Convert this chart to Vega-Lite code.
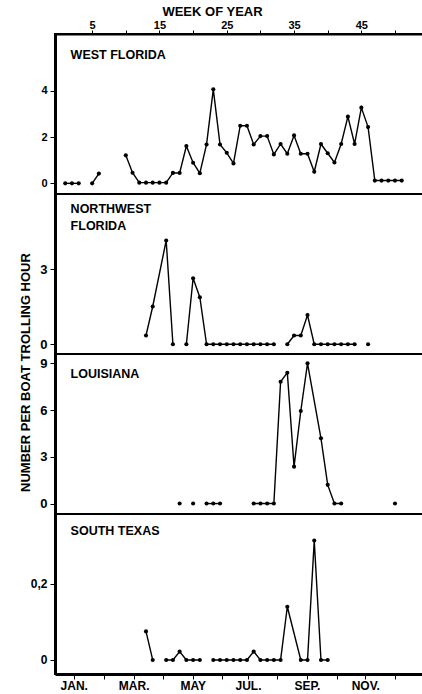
{
  "$schema": "https://vega.github.io/schema/vega-lite/v6.json",
  "padding": {"left": 17, "top": 4, "right": 0, "bottom": 0},
  "background": "white",
  "spacing": 0,
  "bounds": "flush",
  "config": {
    "view": {"stroke": "black", "strokeWidth": 2},
    "axis": {"grid": false, "labelFont": "Liberation Sans", "labelFontWeight": "bold", "labelFontSize": 11, "labelColor": "black", "tickColor": "black", "domainColor": "black", "titleFont": "Liberation Sans", "titleFontWeight": "bold", "titleColor": "black", "labelFlush": false, "labelOverlap": false}
  },
  "datasets": {
    "d": [
      {"region":"WF","week":1,"value":0,"seg":1},{"region":"WF","week":2,"value":0,"seg":1},{"region":"WF","week":3,"value":0,"seg":1},
      {"region":"WF","week":5,"value":0,"seg":2},{"region":"WF","week":6,"value":0.42,"seg":2},
      {"region":"WF","week":10,"value":1.21,"seg":3},{"region":"WF","week":11,"value":0.46,"seg":3},{"region":"WF","week":12,"value":0.03,"seg":3},{"region":"WF","week":13,"value":0.03,"seg":3},{"region":"WF","week":14,"value":0.03,"seg":3},{"region":"WF","week":15,"value":0.03,"seg":3},{"region":"WF","week":16,"value":0.03,"seg":3},{"region":"WF","week":17,"value":0.45,"seg":3},{"region":"WF","week":18,"value":0.45,"seg":3},{"region":"WF","week":19,"value":1.61,"seg":3},{"region":"WF","week":20,"value":0.89,"seg":3},{"region":"WF","week":21,"value":0.44,"seg":3},{"region":"WF","week":22,"value":1.68,"seg":3},{"region":"WF","week":23,"value":4.06,"seg":3},{"region":"WF","week":24,"value":1.68,"seg":3},{"region":"WF","week":25,"value":1.32,"seg":3},{"region":"WF","week":26,"value":0.86,"seg":3},{"region":"WF","week":27,"value":2.49,"seg":3},{"region":"WF","week":28,"value":2.49,"seg":3},{"region":"WF","week":29,"value":1.68,"seg":3},{"region":"WF","week":30,"value":2.04,"seg":3},{"region":"WF","week":31,"value":2.04,"seg":3},{"region":"WF","week":32,"value":1.25,"seg":3},{"region":"WF","week":33,"value":1.7,"seg":3},{"region":"WF","week":34,"value":1.28,"seg":3},{"region":"WF","week":35,"value":2.07,"seg":3},{"region":"WF","week":36,"value":1.28,"seg":3},{"region":"WF","week":37,"value":1.28,"seg":3},{"region":"WF","week":38,"value":0.5,"seg":3},{"region":"WF","week":39,"value":1.7,"seg":3},{"region":"WF","week":40,"value":1.3,"seg":3},{"region":"WF","week":41,"value":0.9,"seg":3},{"region":"WF","week":42,"value":1.7,"seg":3},{"region":"WF","week":43,"value":2.88,"seg":3},{"region":"WF","week":44,"value":1.7,"seg":3},{"region":"WF","week":45,"value":3.27,"seg":3},{"region":"WF","week":46,"value":2.43,"seg":3},{"region":"WF","week":47,"value":0.12,"seg":3},{"region":"WF","week":48,"value":0.12,"seg":3},{"region":"WF","week":49,"value":0.12,"seg":3},{"region":"WF","week":50,"value":0.12,"seg":3},{"region":"WF","week":51,"value":0.12,"seg":3},

      {"region":"NWF","week":13,"value":0.35,"seg":1},{"region":"NWF","week":14,"value":1.51,"seg":1},{"region":"NWF","week":16,"value":4.15,"seg":1},{"region":"NWF","week":17,"value":0,"seg":1},
      {"region":"NWF","week":19,"value":0,"seg":2},{"region":"NWF","week":20,"value":2.64,"seg":2},{"region":"NWF","week":21,"value":1.88,"seg":2},{"region":"NWF","week":22,"value":0,"seg":2},{"region":"NWF","week":23,"value":0,"seg":2},{"region":"NWF","week":24,"value":0,"seg":2},{"region":"NWF","week":25,"value":0,"seg":2},{"region":"NWF","week":26,"value":0,"seg":2},{"region":"NWF","week":27,"value":0,"seg":2},{"region":"NWF","week":28,"value":0,"seg":2},{"region":"NWF","week":29,"value":0,"seg":2},{"region":"NWF","week":30,"value":0,"seg":2},{"region":"NWF","week":31,"value":0,"seg":2},{"region":"NWF","week":32,"value":0,"seg":2},
      {"region":"NWF","week":34,"value":0,"seg":3},{"region":"NWF","week":35,"value":0.35,"seg":3},{"region":"NWF","week":36,"value":0.35,"seg":3},{"region":"NWF","week":37,"value":1.17,"seg":3},{"region":"NWF","week":38,"value":0,"seg":3},{"region":"NWF","week":39,"value":0,"seg":3},{"region":"NWF","week":40,"value":0,"seg":3},{"region":"NWF","week":41,"value":0,"seg":3},{"region":"NWF","week":42,"value":0,"seg":3},{"region":"NWF","week":43,"value":0,"seg":3},{"region":"NWF","week":44,"value":0,"seg":3},
      {"region":"NWF","week":46,"value":0,"seg":4},

      {"region":"LA","week":18,"value":0,"seg":1},
      {"region":"LA","week":20,"value":0,"seg":2},
      {"region":"LA","week":22,"value":0,"seg":3},{"region":"LA","week":23,"value":0,"seg":3},{"region":"LA","week":24,"value":0,"seg":3},
      {"region":"LA","week":29,"value":0,"seg":4},{"region":"LA","week":30,"value":0,"seg":4},{"region":"LA","week":31,"value":0,"seg":4},{"region":"LA","week":32,"value":0,"seg":4},{"region":"LA","week":33,"value":7.82,"seg":4},{"region":"LA","week":34,"value":8.4,"seg":4},{"region":"LA","week":35,"value":2.37,"seg":4},{"region":"LA","week":36,"value":5.94,"seg":4},{"region":"LA","week":37,"value":9.0,"seg":4},{"region":"LA","week":39,"value":4.19,"seg":4},{"region":"LA","week":40,"value":1.2,"seg":4},{"region":"LA","week":41,"value":0,"seg":4},{"region":"LA","week":42,"value":0,"seg":4},
      {"region":"LA","week":50,"value":0,"seg":5},

      {"region":"ST","week":13,"value":0.075,"seg":1},{"region":"ST","week":14,"value":0,"seg":1},
      {"region":"ST","week":16,"value":0,"seg":2},{"region":"ST","week":17,"value":0,"seg":2},{"region":"ST","week":18,"value":0.022,"seg":2},{"region":"ST","week":19,"value":0,"seg":2},{"region":"ST","week":20,"value":0,"seg":2},{"region":"ST","week":21,"value":0,"seg":2},
      {"region":"ST","week":23,"value":0,"seg":3},{"region":"ST","week":24,"value":0,"seg":3},{"region":"ST","week":25,"value":0,"seg":3},{"region":"ST","week":26,"value":0,"seg":3},{"region":"ST","week":27,"value":0,"seg":3},{"region":"ST","week":28,"value":0,"seg":3},{"region":"ST","week":29,"value":0.022,"seg":3},{"region":"ST","week":30,"value":0,"seg":3},{"region":"ST","week":31,"value":0,"seg":3},{"region":"ST","week":32,"value":0,"seg":3},{"region":"ST","week":33,"value":0,"seg":3},{"region":"ST","week":34,"value":0.14,"seg":3},{"region":"ST","week":36,"value":0,"seg":3},{"region":"ST","week":37,"value":0,"seg":3},{"region":"ST","week":38,"value":0.314,"seg":3},{"region":"ST","week":39,"value":0,"seg":3},{"region":"ST","week":40,"value":0,"seg":3}
    ]
  },
  "vconcat": [
    {
      "width": 368, "height": 160,
      "data": {"name": "d"},
      "transform": [{"filter": "datum.region == 'WF'"}],
      "encoding": {
        "x": {"field": "week", "type": "quantitative", "scale": {"domain": [-0.52, 54.16], "nice": false, "zero": false},
              "axis": {"orient": "top", "values": [5,10,15,20,25,30,35,40,45,50], "labelExpr": "datum.value % 10 == 5 ? datum.label : ''", "labelFontSize": 11, "labelPadding": 0, "tickSize": 4, "domainWidth": 2, "title": "WEEK OF YEAR", "titleFontSize": 13, "titleX": 157, "titleY": -19, "titleBaseline": "alphabetic", "titleAlign": "center"}},
        "y": {"field": "value", "type": "quantitative", "scale": {"domain": [-0.46, 6.45], "nice": false, "zero": false},
              "axis": {"values": [0,2,4], "format": "d", "labelFontSize": 11, "tickSize": 5, "labelPadding": 3, "domainWidth": 3, "title": null}}
      },
      "layer": [
        {"mark": {"type": "line", "color": "black", "strokeWidth": 1.4}, "encoding": {"detail": {"field": "seg", "type": "nominal"}}},
        {"mark": {"type": "point", "filled": true, "color": "black", "size": 17, "opacity": 1}},
        {"transform": [{"aggregate": [{"op": "min", "field": "week", "as": "week"}, {"op": "min", "field": "value", "as": "value"}]}],
         "mark": {"type": "text", "font": "Liberation Sans", "fontWeight": "bold", "fontSize": 12.5, "color": "black", "align": "left", "baseline": "top"},
         "encoding": {
           "x": {"datum": 1.8, "type": "quantitative"},
           "y": {"datum": 5.8, "type": "quantitative"},
           "text": {"value": "WEST FLORIDA"}
         }}
      ]
    },
    {
      "width": 368, "height": 160,
      "data": {"name": "d"},
      "transform": [{"filter": "datum.region == 'NWF'"}],
      "encoding": {
        "x": {"field": "week", "type": "quantitative", "scale": {"domain": [-0.52, 54.16], "nice": false, "zero": false},
              "axis": {"labels": false, "ticks": false, "domain": false, "title": null}},
        "y": {"field": "value", "type": "quantitative", "scale": {"domain": [-0.39, 6.01], "nice": false, "zero": false},
              "axis": {"values": [0,3], "format": "d", "labelFontSize": 13, "tickSize": 5, "labelPadding": 3, "domainWidth": 3, "title": null}}
      },
      "layer": [
        {"mark": {"type": "line", "color": "black", "strokeWidth": 1.4}, "encoding": {"detail": {"field": "seg", "type": "nominal"}}},
        {"mark": {"type": "point", "filled": true, "color": "black", "size": 17, "opacity": 1}},
        {"transform": [{"aggregate": [{"op": "min", "field": "week", "as": "week"}, {"op": "min", "field": "value", "as": "value"}]}],
         "mark": {"type": "text", "font": "Liberation Sans", "fontWeight": "bold", "fontSize": 12.5, "color": "black", "align": "left", "baseline": "top", "lineBreak": "\n", "lineHeight": 17},
         "encoding": {
           "x": {"datum": 1.8, "type": "quantitative"},
           "y": {"datum": 5.65, "type": "quantitative"},
           "text": {"value": "NORTHWEST\nFLORIDA"}
         }}
      ]
    },
    {
      "width": 368, "height": 160,
      "data": {"name": "d"},
      "transform": [{"filter": "datum.region == 'LA'"}],
      "encoding": {
        "x": {"field": "week", "type": "quantitative", "scale": {"domain": [-0.52, 54.16], "nice": false, "zero": false},
              "axis": {"labels": false, "ticks": false, "domain": false, "title": null}},
        "y": {"field": "value", "type": "quantitative", "scale": {"domain": [-0.67, 9.6], "nice": false, "zero": false},
              "axis": {"values": [0,3,6,9], "format": "d", "labelFontSize": 13, "tickSize": 5, "labelPadding": 3, "domainWidth": 3,
                       "title": "NUMBER PER BOAT TROLLING HOUR", "titleFontSize": 13, "titleX": -30, "titleY": 18, "titleAngle": -90, "titleAlign": "center", "titleBaseline": "middle"}}
      },
      "layer": [
        {"mark": {"type": "line", "color": "black", "strokeWidth": 1.4}, "encoding": {"detail": {"field": "seg", "type": "nominal"}}},
        {"mark": {"type": "point", "filled": true, "color": "black", "size": 17, "opacity": 1}},
        {"transform": [{"aggregate": [{"op": "min", "field": "week", "as": "week"}, {"op": "min", "field": "value", "as": "value"}]}],
         "mark": {"type": "text", "font": "Liberation Sans", "fontWeight": "bold", "fontSize": 12.5, "color": "black", "align": "left", "baseline": "top"},
         "encoding": {
           "x": {"datum": 1.8, "type": "quantitative"},
           "y": {"datum": 8.69, "type": "quantitative"},
           "text": {"value": "LOUISIANA"}
         }}
      ]
    },
    {
      "width": 368, "height": 160,
      "data": {"name": "d"},
      "transform": [{"filter": "datum.region == 'ST'"}],
      "encoding": {
        "x": {"field": "week", "type": "quantitative", "scale": {"domain": [-0.52, 54.16], "nice": false, "zero": false},
              "axis": {"orient": "bottom", "values": [2.26, 6.81, 11.17, 15.48, 19.94, 24.29, 28.16, 32.47, 36.92, 41.38, 45.59, 49.96],
                       "labelExpr": "datum.value == 2.26 ? 'JAN.' : datum.value == 11.17 ? 'MAR.' : datum.value == 19.94 ? 'MAY' : datum.value == 28.16 ? 'JUL.' : datum.value == 36.92 ? 'SEP.' : datum.value == 45.59 ? 'NOV.' : ''",
                       "labelFontSize": 12, "tickSize": 5, "labelPadding": 1, "domainWidth": 3, "title": null}},
        "y": {"field": "value", "type": "quantitative", "scale": {"domain": [-0.037, 0.384], "nice": false, "zero": false},
              "axis": {"values": [0, 0.2], "labelExpr": "datum.value == 0 ? '0' : '0,2'", "labelFontSize": 12, "tickSize": 5, "labelPadding": 3, "domainWidth": 3, "title": null}}
      },
      "layer": [
        {"mark": {"type": "line", "color": "black", "strokeWidth": 1.4}, "encoding": {"detail": {"field": "seg", "type": "nominal"}}},
        {"mark": {"type": "point", "filled": true, "color": "black", "size": 17, "opacity": 1}},
        {"transform": [{"aggregate": [{"op": "min", "field": "week", "as": "week"}, {"op": "min", "field": "value", "as": "value"}]}],
         "mark": {"type": "text", "font": "Liberation Sans", "fontWeight": "bold", "fontSize": 12.5, "color": "black", "align": "left", "baseline": "top"},
         "encoding": {
           "x": {"datum": 1.8, "type": "quantitative"},
           "y": {"datum": 0.3545, "type": "quantitative"},
           "text": {"value": "SOUTH TEXAS"}
         }}
      ]
    }
  ]
}
